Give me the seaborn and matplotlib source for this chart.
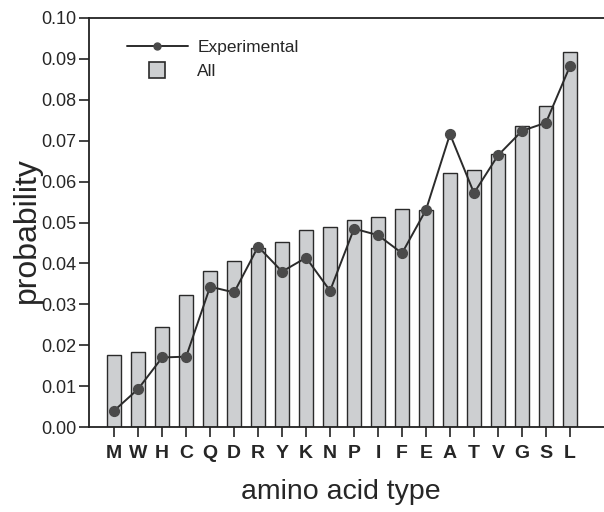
import numpy as np
import pandas as pd
import matplotlib
matplotlib.use("Agg")
import matplotlib.pyplot as plt
import seaborn as sns
from matplotlib.lines import Line2D

# amino acids, sorted by overall frequency
amino_acids = ["M", "W", "H", "C", "Q", "D", "R", "Y", "K", "N",
               "P", "I", "F", "E", "A", "T", "V", "G", "S", "L"]
prob_all = [0.0175, 0.0184, 0.0244, 0.0322, 0.0382, 0.0406, 0.0437, 0.0453, 0.0481, 0.0489,
            0.0505, 0.0513, 0.0532, 0.0531, 0.0620, 0.0628, 0.0667, 0.0737, 0.0786, 0.0916]
prob_exp = [0.0040, 0.0093, 0.0170, 0.0172, 0.0343, 0.0329, 0.0441, 0.0380, 0.0414, 0.0333,
            0.0485, 0.0469, 0.0425, 0.0531, 0.0716, 0.0572, 0.0664, 0.0724, 0.0744, 0.0882]

df = pd.DataFrame({"aa": amino_acids, "all": prob_all, "exp": prob_exp})

sns.set_style("ticks")
plt.rcParams["font.family"] = ["Liberation Sans", "DejaVu Sans"]

bar_fill = "#cdcfd1"
bar_edge = "#2a2a2a"
dot = "#4a4a4a"

fig = plt.figure(figsize=(6.04, 5.12), dpi=100)
ax = fig.add_axes([89 / 604, 1 - 427 / 512, 1 - 89 / 604, 409 / 512])

sns.barplot(data=df, x="aa", y="all", order=amino_acids, color=bar_fill,
            saturation=1, width=0.58, edgecolor=bar_edge, linewidth=1.0, ax=ax)
sns.pointplot(data=df, x="aa", y="exp", order=amino_acids, color="#2b2b2b",
              markers="o", markersize=7, linewidth=1.4, ax=ax)
for ln in ax.lines:
    ln.set_markerfacecolor(dot)
    ln.set_markeredgecolor(dot)

ax.set_xlim(-1.05, 20.42)
ax.set_ylim(0, 0.10)
yt = np.arange(0, 0.101, 0.01)
ax.set_yticks(yt)
ax.set_yticklabels([f"{v:.2f}" for v in yt], fontsize=13)
ax.set_xticks(range(len(amino_acids)))
ax.set_xticklabels(amino_acids, fontsize=14, fontweight="bold")
ax.tick_params(axis="both", direction="out", length=7, width=1.2, color="#222222")
ax.tick_params(axis="y", pad=2)
ax.tick_params(axis="x", pad=6)

ax.set_xlabel("amino acid type", fontsize=20.5)
ax.xaxis.set_label_coords((341 - 89) / 515, -0.128)
ax.set_ylabel("probability", fontsize=23, va="center")
ax.yaxis.set_label_coords((27 - 89) / 515, (427 - 230) / 409)

for side in ["left", "bottom", "top"]:
    ax.spines[side].set_linewidth(1.3)
    ax.spines[side].set_color("#222222")
ax.spines["right"].set_visible(False)

handles = [
    Line2D([0], [0], color="#2b2b2b", lw=1.4, marker="o", markersize=5,
           markerfacecolor=dot, markeredgecolor=dot),
    Line2D([0], [0], linestyle="none", marker="s", markersize=11.5,
           markerfacecolor=bar_fill, markeredgecolor=bar_edge, markeredgewidth=1.2),
]
ax.legend(handles, ["Experimental", "All"], loc="upper left", frameon=False,
          fontsize=12.5, handlelength=3.5, handletextpad=0.55, labelspacing=0.5,
          borderpad=0, borderaxespad=0,
          bbox_to_anchor=(127 / 604, 1 - 40 / 512), bbox_transform=fig.transFigure)

fig.savefig("out.png", dpi=100)
